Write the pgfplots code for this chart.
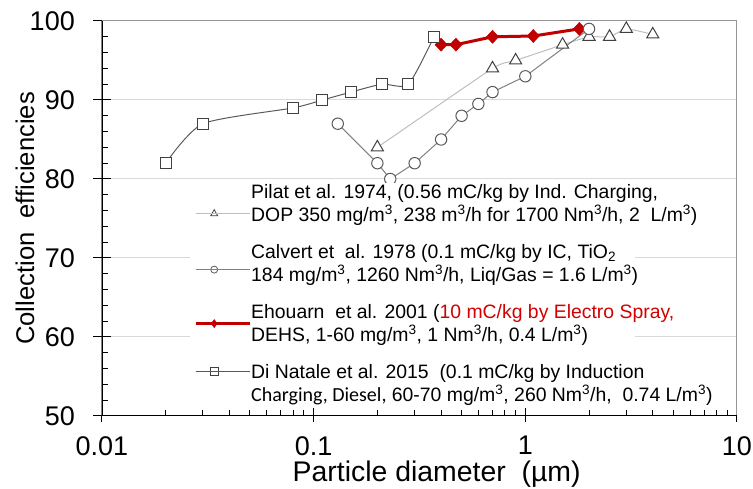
\documentclass[border=0pt]{standalone}
\usepackage{pgfplots}
\pgfplotsset{compat=1.18}
\usepackage{fontspec}
\setmainfont{Liberation Sans}
\newfontfamily\carlito{Carlito}
\definecolor{dred}{RGB}{192,0,0}
\definecolor{tred}{RGB}{210,0,0}
\definecolor{gridc}{RGB}{217,217,217}
\definecolor{framec}{RGB}{150,150,150}
\definecolor{dngray}{RGB}{90,90,90}
\definecolor{cagray}{RGB}{128,128,128}
\definecolor{pigray}{RGB}{190,190,190}
\definecolor{mkgray}{RGB}{64,64,64}
\newcommand{\lgd}[2]{\makebox[380pt][l]{\begin{tabular}{@{}l@{}}#1\\#2\end{tabular}}}
\newcommand{\sups}[1]{\textsuperscript{#1}}
\begin{document}
\begin{tikzpicture}
\useasboundingbox (-102pt,-73pt) rectangle (651pt,416pt);
\begin{axis}[
  at={(0pt,0pt)}, anchor=south west,
  scale only axis, width=635pt, height=395pt,
  xmode=log, xmin=0.01, xmax=10, ymin=50, ymax=100,
  xtick={0.01,0.1,1,10}, xticklabels={0.01,0.1,1,10},
  minor xtick={0.02,0.03,0.04,0.05,0.06,0.07,0.08,0.09,0.2,0.3,0.4,0.5,0.6,0.7,0.8,0.9,2,3,4,5,6,7,8,9},
  ytick={50,60,70,80,90,100}, yticklabels={50,60,70,80,90,100},
  minor ytick={52,54,56,58,62,64,66,68,72,74,76,78,82,84,86,88,92,94,96,98},
  extra y ticks={50,60,70,80,90,100}, extra y tick labels={},
  extra y tick style={tick align=outside, major tick length=9pt, grid=none},
  extra x ticks={0.01,0.1,1,10}, extra x tick labels={},
  extra x tick style={tick align=outside, major tick length=6pt, grid=none},
  tick pos=left, tick align=inside,
  major tick length=9pt, minor tick length=6pt,
  tick style={black, line width=1pt},
  ymajorgrids, major grid style={gridc, line width=1pt},
  axis line style={framec, line width=1pt},
  /pgf/number format/assume math mode=true,
  tick label style={font=\fontsize{27}{32}\selectfont, inner sep=0pt},
  xticklabel style={yshift=-20pt},
  yticklabel style={xshift=-27pt},
  every axis y label/.style={at={(axis description cs:-0.1213,0.5)}, rotate=90, anchor=center, font=\fontsize{25.6}{30}\selectfont},
  every axis x label/.style={at={(axis description cs:0.527,-0.147)}, anchor=center, font=\fontsize{28.4}{32}\selectfont},
  ylabel={Collection\ \ efficiencies},
  xlabel={Particle diameter\ \ (µm)},
  legend style={at={(0.1386,0.5899)}, anchor=north west, draw=none, fill=white,
    inner xsep=4pt, inner ysep=0pt, row sep=15pt, column sep=0pt,
    nodes={inner sep=0pt, text depth={}, text height={}, anchor=west, font=\fontsize{19.4}{21.5}\selectfont}},
  legend cell align=left,
  legend image code/.code={\draw[mark repeat=2,mark phase=2,#1] plot coordinates {(0pt,0pt) (18.5pt,0pt) (37pt,0pt)}; \path (0pt,0pt) -- (54pt,0pt);},
]
% Ehouarn et al. 2001
\addplot[forget plot, dred, line width=3pt, mark=diamond*, mark size=6.5pt, mark options={solid, fill=dred, line width=0.5pt, xscale=1.25}]
  coordinates {(0.4,97) (0.47,97) (0.7,98) (1.09,98.1) (1.8,99)};
% Pilat et al. 1974
\addplot[forget plot, pigray, line width=1pt, smooth, tension=0.3, mark=triangle*, mark size=7pt, mark options={mkgray, fill=white, line width=1pt}]
  coordinates {(0.2,84) (0.7,94) (0.9,95) (1.5,97) (2.0,98) (2.5,98) (3.0,99) (4.0,98.3)};
% Calvert et al. 1978
\addplot[forget plot, cagray, line width=1pt, mark=*, mark size=5.7pt, mark options={dngray, fill=white, line width=1pt}]
  coordinates {(0.13,87) (0.2,82) (0.23,80) (0.3,82) (0.4,85) (0.5,88) (0.6,89.5) (0.7,91) (1.0,93) (2.0,99)};
% Di Natale et al. 2015
\addplot[forget plot, dngray, line width=1pt, smooth, tension=0.4, mark=square*, mark size=5.5pt, mark options={mkgray, fill=white, line width=1pt}]
  coordinates {(0.02,82) (0.03,87) (0.08,89) (0.11,90) (0.15,91) (0.21,92) (0.28,92) (0.37,98)};
\draw[black, line width=1.3pt] (rel axis cs:0,1) -- (rel axis cs:0,0) -- (rel axis cs:1,0);
% legend
\addlegendimage{pigray, line width=1pt, mark=triangle*, mark size=4pt, mark options={mkgray, fill=white, line width=0.8pt}, yshift=-8pt}
\addlegendentry{\lgd{Pilat et al. 1974, (0.56 mC/kg by Ind. Charging,}{DOP 350 mg/m\sups{3}, 238 m\sups{3}/h for 1700 Nm\sups{3}/h, 2\ \ L/m\sups{3})}}
\addlegendimage{cagray, line width=1pt, mark=*, mark size=3.5pt, mark options={dngray, fill=white, line width=0.8pt}, yshift=-4pt}
\addlegendentry{\lgd{Calvert et\ \ al. 1978 (0.1 mC/kg by IC, TiO\textsubscript{2}}{184 mg/m\sups{3}, 1260 Nm\sups{3}/h, Liq/Gas = 1.6 L/m\sups{3})}}
\addlegendimage{dred, line width=3pt, mark=diamond*, mark size=4pt, mark options={fill=dred, line width=0.5pt}, yshift=2pt}
\addlegendentry{\lgd{Ehouarn\ \ et al. 2001 (\textcolor{tred}{10 mC/kg by Electro Spray,}}{DEHS, 1-60 mg/m\sups{3}, 1 Nm\sups{3}/h, 0.4 L/m\sups{3})}}
\addlegendimage{dngray, line width=1pt, mark=square*, mark size=4pt, mark options={mkgray, fill=white, line width=0.8pt}, yshift=14pt}
\addlegendentry{\lgd{Di Natale et al. 2015\ \ (0.1 mC/kg by Induction}{{\carlito\fontsize{20}{21.5}\selectfont Charging, Diesel,} 60-70 mg/m\sups{3}, 260 Nm\sups{3}/h,\ \ 0.74 L/m\sups{3})}}
\end{axis}
\end{tikzpicture}
\end{document}
